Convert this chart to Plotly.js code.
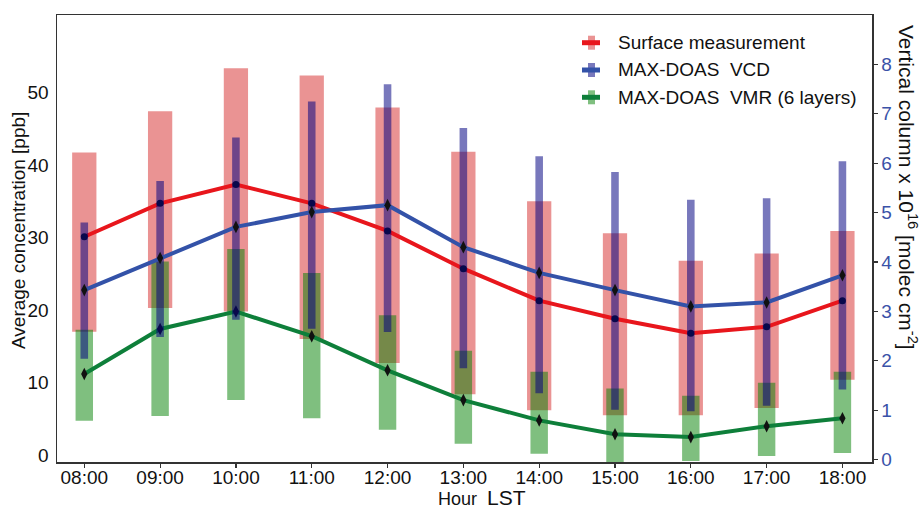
<!DOCTYPE html>
<html>
<head>
<meta charset="utf-8">
<script src="https://cdn.plot.ly/plotly-3.0.1.min.js"></script>
<style>html,body{margin:0;padding:0;background:#fff;}#chart{width:920px;height:509px;}</style>
</head>
<body>
<div id="chart"></div>
<script>
// ---- data ----
const hours = ['08:00','09:00','10:00','11:00','12:00','13:00','14:00','15:00','16:00','17:00','18:00'];
// Surface measurement [ppb] (left axis)
const surfMean = [30.1, 34.7, 37.3, 34.7, 30.9, 25.7, 21.3, 18.8, 16.8, 17.7, 21.3];
const surfLow  = [17.0, 20.3, 19.8, 16.0, 12.7, 8.4, 6.2, 5.5, 5.5, 6.5, 10.4];
const surfHigh = [41.7, 47.4, 53.3, 52.3, 47.9, 41.8, 35.0, 30.6, 26.8, 27.8, 30.9];
// MAX-DOAS VCD [1e16 molec cm-2] (right axis)
const vcdMean = [3.43, 4.08, 4.71, 5.01, 5.15, 4.30, 3.78, 3.43, 3.10, 3.18, 3.73];
const vcdLow  = [2.04, 2.48, 2.83, 2.65, 2.58, 1.85, 1.34, 1.01, 0.98, 1.09, 1.42];
const vcdHigh = [4.80, 5.64, 6.52, 7.25, 7.60, 6.71, 6.14, 5.82, 5.26, 5.29, 6.04];
// MAX-DOAS VMR (6 layers) [ppb] (left axis)
const vmrMean = [11.2, 17.4, 19.8, 16.4, 11.7, 7.6, 4.8, 2.9, 2.5, 4.0, 5.1];
const vmrLow  = [4.75, 5.4, 7.6, 5.1, 3.5, 1.6, 0.2, -1.2, -0.8, -0.1, 0.3];
const vmrHigh = [17.3, 26.7, 28.4, 25.1, 19.3, 14.4, 11.5, 9.2, 8.2, 10.0, 11.5];
const seriesNames = ['Surface measurement', 'MAX-DOAS  VCD', 'MAX-DOAS  VMR (6 layers)'];
const leftTicks = [0, 10, 20, 30, 40, 50];
const rightTicks = [0, 1, 2, 3, 4, 5, 6, 7, 8];

// ---- styles ----
const FONT = 'Liberation Sans, Arial, sans-serif';
const redBar = 'rgba(214,39,40,0.5)', redLine = '#E8161C';
const blueBar = 'rgba(0,0,128,0.53)', blueLine = '#3352A8';
const greenBar = 'rgba(0,128,0,0.5)', greenLine = '#0E7F3A';
const axisCol = '#333';

const idx = hours.map((_, i) => i);
const diff = (hi, lo) => hi.map((v, i) => v - lo[i]);

const traces = [
  {type:'bar', x: idx, base: surfLow, y: diff(surfHigh, surfLow), width: 0.32,
   marker:{color: redBar, line:{width:0}}, yaxis:'y', showlegend:false, hoverinfo:'skip'},
  {type:'bar', x: idx, base: vmrLow, y: diff(vmrHigh, vmrLow), width: 0.23,
   marker:{color: greenBar, line:{width:0}}, yaxis:'y', showlegend:false, hoverinfo:'skip'},
  {type:'scatter', mode:'lines+markers', x: idx, y: surfMean, yaxis:'y',
   line:{color: redLine, width:4}, marker:{color:'#111', size:7, symbol:'circle'}, showlegend:false},
  {type:'scatter', mode:'lines+markers', x: idx, y: vmrMean, yaxis:'y',
   line:{color: greenLine, width:4}, marker:{color:'#111', size:9, symbol:'diamond-tall'}, showlegend:false},
  {type:'bar', x: idx, base: vcdLow, y: diff(vcdHigh, vcdLow), width: 0.10,
   marker:{color: blueBar, line:{width:0}}, yaxis:'y2', showlegend:false, hoverinfo:'skip'},
  {type:'scatter', mode:'lines+markers', x: idx, y: vcdMean, yaxis:'y2',
   line:{color: blueLine, width:4}, marker:{color:'#111', size:9, symbol:'diamond-tall'}, showlegend:false}
];

// pixel helpers for decorative legend / titles
const L = 57, R = 48, T = 15, B = 47, W = 920, H = 509;
const pw = W - L - R, ph = H - T - B;
const px = X => (X - L) / pw;
const py = Y => (H - B - Y) / ph;

const legendRows = [42.7, 70, 97.3];
const legBar = [redBar, blueBar, greenBar];
const legLine = [redLine, blueLine, greenLine];
const shapes = [];
const annotations = [];
legendRows.forEach((ry, i) => {
  shapes.push({type:'rect', xref:'paper', yref:'paper', x0: px(588), x1: px(595), y0: py(ry + 7), y1: py(ry - 7),
    fillcolor: legBar[i], line:{width:0}});
  shapes.push({type:'line', xref:'paper', yref:'paper', x0: px(582), x1: px(600), y0: py(ry), y1: py(ry),
    line:{color: legLine[i], width:5}});
  annotations.push({xref:'paper', yref:'paper', x: px(616), y: py(ry), xanchor:'left', yanchor:'middle',
    text: seriesNames[i], showarrow:false, font:{family: FONT, size:19, color:'#111'}});
});
annotations.push({xref:'paper', yref:'paper', x: px(18), y: py(231), xanchor:'center', yanchor:'middle',
  textangle:-90, text:'Average concentration [ppb]', showarrow:false, font:{family: FONT, size:19, color:'#111'}});
annotations.push({xref:'paper', yref:'paper', x: px(908), y: py(187), xanchor:'center', yanchor:'middle',
  textangle:90, text:'Vertical column x 10<sup>16</sup> [molec cm<sup>-2</sup>]', showarrow:false,
  font:{family: FONT, size:21, color:'#111'}});
annotations.push({xref:'paper', yref:'paper', x: px(482), y: py(497), xanchor:'center', yanchor:'middle',
  text:'Hour  <span style="font-size:21px">LST</span>', showarrow:false, font:{family: FONT, size:18, color:'#111'}});

const layout = {
  width: W, height: H,
  margin:{l: L, r: R, t: T, b: B, pad: 0},
  paper_bgcolor:'#fff', plot_bgcolor:'#fff',
  barmode:'overlay', showlegend:false,
  font:{family: FONT, size:19, color:'#111'},
  xaxis:{range:[-0.36, 10.39], tickvals: idx, ticktext: hours, showgrid:false, zeroline:false,
    showline:true, linecolor: axisCol, linewidth:1.5, mirror:true, ticks:'outside', ticklen:4, tickwidth:1.2,
    tickcolor: axisCol, ticklabelstandoff:-6, tickfont:{family: FONT, size:19, color:'#111'}},
  yaxis:{range:[-0.93, 60.65], tickvals: leftTicks, showgrid:false, zeroline:false,
    showline:true, linecolor: axisCol, linewidth:1.5, ticks:'outside', ticklen:3, tickcolor:'rgba(0,0,0,0)',
    tickfont:{family: FONT, size:19, color:'#111'}},
  yaxis2:{range:[-0.05, 9.0], tickvals: rightTicks, overlaying:'y', side:'right', showgrid:false, zeroline:false,
    showline:true, linecolor: axisCol, linewidth:1.5, ticks:'outside', ticklen:4, tickwidth:1.2, tickcolor: axisCol,
    tickfont:{family: FONT, size:19, color:'#3A52A8'}},
  shapes: shapes,
  annotations: annotations
};

Plotly.newPlot('chart', traces, layout, {staticPlot:true, displayModeBar:false});
</script>
</body>
</html>
